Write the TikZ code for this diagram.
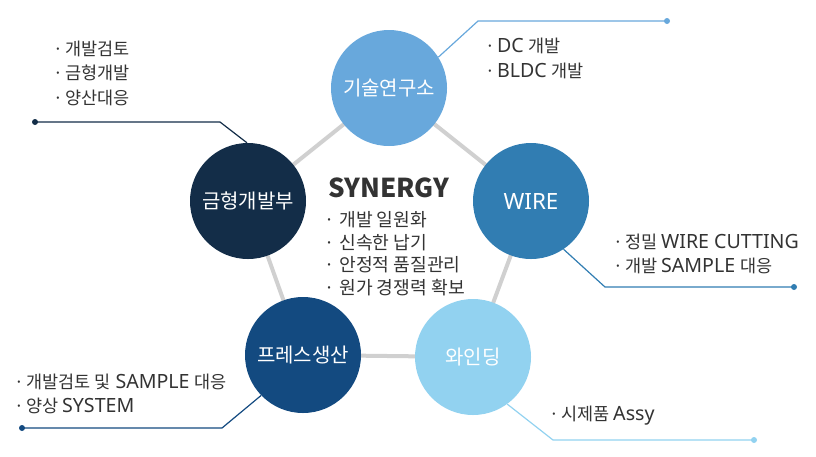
\documentclass[tikz,border=0pt]{standalone}
\usepackage{fontspec}
\setmainfont{Noto Sans CJK KR}
\newfontfamily\latinfont[Scale=1.12]{Noto Sans}
\newcommand{\latn}[1]{{\latinfont #1}}
\newcommand{\itemdot}{·\hspace{2pt}}
\usetikzlibrary{positioning,backgrounds}
\definecolor{labblue}{RGB}{104,168,220}
\definecolor{wireblue}{RGB}{49,125,178}
\definecolor{windblue}{RGB}{146,210,240}
\definecolor{pressblue}{RGB}{19,74,128}
\definecolor{moldnavy}{RGB}{19,45,72}
\definecolor{linkgray}{RGB}{208,208,208}
\definecolor{textgray}{RGB}{51,51,51}

\begin{document}
\begin{tikzpicture}[x=1pt, y=-1pt,
      unit/.style={circle, minimum size=116pt, inner sep=0pt, text=white,
                   font=\fontsize{20}{22}\selectfont},
      link/.style={linkgray, line width=4pt},
      lead/.style={line width=1.2pt},
      note/.style={anchor=west, align=left, inner sep=0pt, text=textgray,
                   font=\fontsize{17.5}{24.5}\selectfont},
      dot/.style={circle, fill, inner sep=0pt, minimum size=6pt}
    ]
    \useasboundingbox (0,0) rectangle (816,456);
    % five units round the pentagon
    \node[unit, fill=labblue] (lab) at (389,88) {기술연구소};
    \node[unit, fill=wireblue] (wire) at (531,201) {\latn{WIRE}};
    \node[unit, fill=windblue] (wind) at (473,357) {와인딩};
    \node[unit, fill=pressblue] (press) at (303,355) {프레스생산};
    \node[unit, fill=moldnavy] (mold) at (248,201) {금형개발부};
    % centre text
    \node[font=\fontsize{26}{28}\selectfont\bfseries, text=textgray] (syn) at (389,188) {SYNERGY};
    \node[note, font=\fontsize{18.2}{22.5}\selectfont] (synlist) at (324,253.5) {%
      ·\hspace{5pt}개발 일원화\\
      ·\hspace{5pt}신속한 납기\\
      ·\hspace{5pt}안정적 품질관리\\
      ·\hspace{5pt}원가 경쟁력 확보};
    % notes
    \node[note] (moldnote) at (53,73) {\itemdot 개발검토\\\itemdot 금형개발\\\itemdot 양산대응};
    \node[note] (labnote) at (485,58.5) {\itemdot\latn{DC }개발\\\itemdot\latn{BLDC }개발};
    \node[note] (wirenote) at (613,254) {\itemdot 정밀 \latn{WIRE CUTTING}\\\itemdot 개발 \latn{SAMPLE }대응};
    \node[note] (pressnote) at (14,394) {\itemdot 개발검토 및\latn{ SAMPLE }대응\\\itemdot 양상 \latn{SYSTEM}};
    \node[note] (windnote) at (549,416) {\itemdot 시제품 \latn{Assy}};
    % leader ends
    \node[dot, moldnavy] (molddot) at (35,122) {};
    \node[dot, labblue] (labdot) at (667,21) {};
    \node[dot, wireblue] (wiredot) at (794,287) {};
    \node[dot, pressblue] (pressdot) at (22,428) {};
    \node[dot, windblue] (winddot) at (754,440) {};
    \coordinate (moldbend) at (220,122);
    \coordinate (labbend) at (478,21);
    \coordinate (wirebend) at (605,287);
    \coordinate (pressbend) at (222,428);
    \coordinate (windbend) at (553,440);
    \begin{scope}[on background layer]
      % pentagon
      \draw[link] (lab.center) -- (wire.center) -- (wind.center) -- (press.center) -- (mold.center) -- cycle;
      % leaders
      \draw[lead, moldnavy] (molddot.center) -- (moldbend) -- (mold.91);
      \draw[lead, labblue] (labdot.center) -- (labbend) -- (lab.32);
      \draw[lead, wireblue] (wiredot.center) -- (wirebend) -- (wire.-56);
      \draw[lead, pressblue] (pressdot.center) -- (pressbend) -- (press.-136);
      \draw[lead, windblue] (winddot.center) -- (windbend) -- (wind.-54);
    \end{scope}
  \end{tikzpicture}
\end{document}
